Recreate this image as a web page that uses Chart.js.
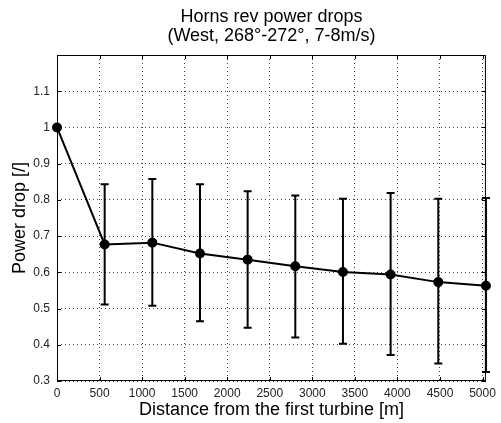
<!DOCTYPE html>
<html>
<head>
<meta charset="utf-8">
<script src="https://cdn.jsdelivr.net/npm/chart.js@4/dist/chart.umd.min.js"></script>
<style>
  html, body { margin: 0; padding: 0; background: #fff; }
  #wrap { width: 501px; height: 423px; }
</style>
</head>
<body>
<div id="wrap"><canvas id="powerChart" width="501" height="423"></canvas></div>
<script>
// Horns Rev power drop vs distance, with error bars

const distance = [0, 560, 1120, 1680, 2240, 2800, 3360, 3920, 4480, 5040];
const powerDrop = [1.0, 0.677, 0.682, 0.652, 0.635, 0.617, 0.601, 0.594, 0.573, 0.563];
const upperBar = [null, 0.843, 0.858, 0.843, 0.824, 0.812, 0.803, 0.819, 0.803, 0.805];
const lowerBar = [null, 0.511, 0.508, 0.465, 0.447, 0.420, 0.403, 0.372, 0.348, 0.325];

const xTicks = [0, 500, 1000, 1500, 2000, 2500, 3000, 3500, 4000, 4500, 5000];
const yTicks = [0.3, 0.4, 0.5, 0.6, 0.7, 0.8, 0.9, 1, 1.1];

const FONT = '"Liberation Sans", Arial, Helvetica, sans-serif';

const errorBars = {
    id: 'errorBars',
    afterDatasetsDraw(chart) {
        const { ctx, scales: { x, y } } = chart;
        ctx.save();
        ctx.strokeStyle = '#000';
        ctx.lineWidth = 2;
        distance.forEach((d, i) => {
            if (upperBar[i] == null) return;
            const px = x.getPixelForValue(d);
            const top = y.getPixelForValue(upperBar[i]);
            const bot = y.getPixelForValue(lowerBar[i]);
            ctx.beginPath();
            ctx.moveTo(px, top);
            ctx.lineTo(px, bot);
            ctx.moveTo(px - 4, top);
            ctx.lineTo(px + 4, top);
            ctx.moveTo(px - 4, bot);
            ctx.lineTo(px + 4, bot);
            ctx.stroke();
        });
        ctx.restore();
    }
};

// matlab style box with inward ticks
const axesBox = {
    id: 'axesBox',
    afterDraw(chart) {
        const { ctx, chartArea: a, scales: { x, y } } = chart;
        ctx.save();
        ctx.strokeStyle = '#000';
        ctx.lineWidth = 1;
        ctx.strokeRect(a.left + 0.5, a.top + 0.5, a.right - a.left - 1, a.bottom - a.top - 1);
        ctx.beginPath();
        x.ticks.forEach(t => {
            const px = Math.round(x.getPixelForValue(t.value)) + 0.5;
            ctx.moveTo(px, a.bottom); ctx.lineTo(px, a.bottom - 4);
            ctx.moveTo(px, a.top); ctx.lineTo(px, a.top + 4);
        });
        y.ticks.forEach(t => {
            const py = Math.round(y.getPixelForValue(t.value)) + 0.5;
            ctx.moveTo(a.left, py); ctx.lineTo(a.left + 4, py);
            ctx.moveTo(a.right, py); ctx.lineTo(a.right - 4, py);
        });
        ctx.stroke();
        ctx.restore();
    }
};

const ctx = document.getElementById('powerChart');
new Chart(ctx, {
    type: 'line',
    data: {
        datasets: [{
            label: 'Power drop',
            data: distance.map((d, i) => ({ x: d, y: powerDrop[i] })),
            borderColor: '#000',
            backgroundColor: '#000',
            borderWidth: 2,
            pointRadius: 4,
            pointHoverRadius: 4,
            tension: 0,
            fill: false,
            clip: false
        }]
    },
    options: {
        responsive: false,
        animation: false,
        layout: { padding: { left: 0, right: 10, top: 0, bottom: 0 } },
        plugins: {
            legend: { display: false },
            tooltip: { enabled: false },
            title: {
                display: true,
                fullSize: false,
                text: ['Horns rev power drops', '(West, 268°-272°, 7-8m/s)'],
                color: '#000',
                font: { family: FONT, size: 18, weight: 'normal', lineHeight: 1.05 },
                padding: { top: 8, bottom: 9.2 }
            }
        },
        scales: {
            x: {
                type: 'linear',
                min: 0,
                max: 5040,
                afterFit: s => { s.height = 42; },
                afterBuildTicks: s => { s.ticks = xTicks.map(v => ({ value: v })); },
                ticks: {
                    padding: 5,
                    color: '#222',
                    font: { family: FONT, size: 12 },
                    maxRotation: 0,
                    autoSkip: false,
                    callback: v => String(v)
                },
                grid: { color: '#444', lineWidth: 1, drawTicks: false },
                border: { display: false, dash: [1, 3] },
                title: {
                    display: true,
                    text: 'Distance from the first turbine [m]',
                    color: '#000',
                    font: { family: FONT, size: 18 },
                    padding: { top: 0, bottom: 2 }
                }
            },
            y: {
                min: 0.3,
                max: 1.2,
                afterFit: s => { s.width = 57; },
                afterBuildTicks: s => { s.ticks = yTicks.map(v => ({ value: v })); },
                ticks: {
                    padding: 7,
                    color: '#222',
                    font: { family: FONT, size: 12 },
                    autoSkip: false,
                    callback: v => String(v)
                },
                grid: { color: '#444', lineWidth: 1, drawTicks: false },
                border: { display: false, dash: [1, 3] },
                title: {
                    display: true,
                    text: 'Power drop [/]',
                    color: '#000',
                    font: { family: FONT, size: 18 },
                    padding: { top: 9, bottom: 0 }
                }
            }
        }
    },
    plugins: [errorBars, axesBox]
});
</script>
</body>
</html>
